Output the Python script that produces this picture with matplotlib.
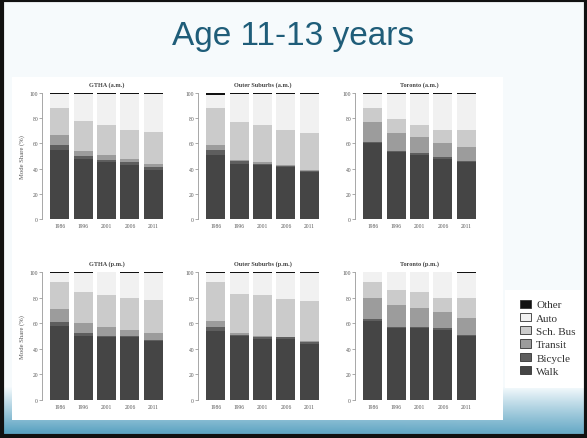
import numpy as np
import matplotlib
matplotlib.use("Agg")
from matplotlib import pyplot as plt
from matplotlib.patches import Rectangle, Patch

# DATA (mode share in %)
years = ["1986", "1996", "2001", "2006", "2011"]
modes = ["Walk", "Bicycle", "Transit", "Sch. Bus", "Auto", "Other"]
panel_titles = ["GTHA (a.m.)", "Outer Suburbs (a.m.)", "Toronto (a.m.)",
                "GTHA (p.m.)", "Outer Suburbs (p.m.)", "Toronto (p.m.)"]

# a.m.
gtha_am_walk = [55, 48, 45, 43, 39]
gtha_am_bike = [4, 2, 2, 2, 2]
gtha_am_transit = [8, 4, 4, 3, 3]
gtha_am_bus = [21, 24, 24, 23, 25]
gtha_am_other = [0.8, 0.8, 0.8, 0.8, 0.8]

outer_am_walk = [51, 44, 43, 41, 37]
outer_am_bike = [4, 2, 1, 1, 1]
outer_am_transit = [4, 1, 1, 1, 1]
outer_am_bus = [29, 30, 30, 28, 29]
outer_am_other = [1.5, 0.8, 0.8, 0.8, 0.8]

tor_am_walk = [60, 53, 51, 48, 45]
tor_am_bike = [1, 1, 1, 1, 1]
tor_am_transit = [16, 14, 13, 11, 11]
tor_am_bus = [11, 11, 10, 11, 14]
tor_am_other = [0.8, 0.8, 0.8, 0.8, 0.8]

# p.m.
gtha_pm_walk = [58, 50, 49, 49, 46]
gtha_pm_bike = [3, 2, 1, 1, 1]
gtha_pm_transit = [10, 8, 7, 5, 5]
gtha_pm_bus = [21, 24, 25, 25, 26]
gtha_pm_other = [0.8, 0.8, 0, 0.8, 0.8]

outer_pm_walk = [54, 50, 48, 48, 44]
outer_pm_bike = [3, 1, 1, 1, 1]
outer_pm_transit = [5, 1, 1, 0, 1]
outer_pm_bus = [30, 31, 32, 30, 31]
outer_pm_other = [0.8, 0.8, 0.5, 0.8, 0.8]

tor_pm_walk = [62, 56, 56, 55, 50]
tor_pm_bike = [1, 1, 1, 1, 1]
tor_pm_transit = [17, 17, 15, 13, 13]
tor_pm_bus = [12, 12, 12, 11, 16]
tor_pm_other = [0, 0, 0, 0, 0.8]

panels = [
    (gtha_am_walk, gtha_am_bike, gtha_am_transit, gtha_am_bus, gtha_am_other),
    (outer_am_walk, outer_am_bike, outer_am_transit, outer_am_bus, outer_am_other),
    (tor_am_walk, tor_am_bike, tor_am_transit, tor_am_bus, tor_am_other),
    (gtha_pm_walk, gtha_pm_bike, gtha_pm_transit, gtha_pm_bus, gtha_pm_other),
    (outer_pm_walk, outer_pm_bike, outer_pm_transit, outer_pm_bus, outer_pm_other),
    (tor_pm_walk, tor_pm_bike, tor_pm_transit, tor_pm_bus, tor_pm_other),
]

colors = {"Walk": "#454545", "Bicycle": "#5e5e5e", "Transit": "#9c9c9c",
          "Sch. Bus": "#cbcbcb", "Auto": "#f1f1f1", "Other": "#111111"}

W, H = 587, 439
fig = plt.figure(figsize=(W / 100, H / 100), dpi=100)

# slide background with teal gradient at the bottom
bg = fig.add_axes([0, 0, 1, 1])
yy = np.linspace(0, 1, H)[:, None] * np.ones((1, W))
xx = np.ones((H, 1)) * np.linspace(0, 1, W)[None, :]
t = np.clip((yy * H - 388) / 45, 0, 1)
light = np.array([0.965, 0.983, 0.992])
teal = np.array([0.36, 0.64, 0.76])
img = light[None, None, :] * (1 - t[..., None]) + teal[None, None, :] * t[..., None]
img = img * (1 - 0.1 * xx[..., None] * t[..., None]) + 0.1 * xx[..., None] * t[..., None]
bg.imshow(img, extent=[0, W, H, 0], aspect="auto")
bg.set_xlim(0, W)
bg.set_ylim(H, 0)
bg.axis("off")
# white picture panel and legend box
bg.add_patch(Rectangle((12, 78), 491, 343, facecolor="white", edgecolor="none"))
bg.add_patch(Rectangle((505, 291), 80, 98, facecolor="white", edgecolor="none"))
# dark slide frame
bg.add_patch(Rectangle((1.5, 1), W - 3, H - 3, facecolor="none", edgecolor="#111111", lw=3))

fig.text(0.5, 1 - 45 / H, "Age 11-13 years", ha="center", va="baseline",
         fontsize=24, color="#1f5d79", family="Liberation Sans")

# axes positions in pixels (left, right)
col_px = [(45, 168), (201, 324), (358, 481)]
row_px = [(94, 220), (273, 401)]

x = np.arange(len(years))
for k, data in enumerate(panels):
    r, c = divmod(k, 3)
    x0, x1 = col_px[c]
    ytop, ybot = row_px[r]
    ax = fig.add_axes([x0 / W, 1 - ybot / H, (x1 - x0) / W, (ybot - ytop) / H])
    for s in ["top", "right", "bottom"]:
        ax.spines[s].set_visible(False)
    ax.spines["left"].set_position(("outward", 2))
    ax.spines["left"].set_color("#999999")
    ax.spines["left"].set_linewidth(0.6)
    walk, bike, transit, bus, other = [np.array(v, dtype=float) for v in data]
    auto = 100 - walk - bike - transit - bus - other
    bottom = np.zeros(len(years))
    for name, vals in zip(modes, [walk, bike, transit, bus, auto, other]):
        ax.bar(x, vals, 0.81, bottom=bottom, color=colors[name], edgecolor="none")
        bottom = bottom + vals
    ax.set_xlim(-0.62, 4.62)
    ax.set_ylim(0, 100)
    ax.set_xticks(x)
    ax.set_xticklabels(years, family="Liberation Serif")
    ax.set_yticks([0, 20, 40, 60, 80, 100])
    ax.set_yticklabels(["0", "20", "40", "60", "80", "100"], family="Liberation Serif")
    ax.tick_params(axis="both", labelsize=4, labelcolor="#555555")
    ax.tick_params(axis="x", length=0, pad=3)
    ax.tick_params(axis="y", length=2, width=0.5, color="#888888", pad=1)
    ax.set_title(panel_titles[k], fontsize=4.5, family="Liberation Serif",
                 fontweight="bold", color="#444444", pad=5)
    if c == 0:
        ax.set_ylabel("Mode Share (%)", fontsize=4.8, family="Liberation Serif",
                      color="#555555", labelpad=3)

handles = [Patch(facecolor=colors[m], edgecolor="#333333", linewidth=0.6) for m in modes[::-1]]
leg = fig.legend(handles, modes[::-1], loc="upper left",
                 bbox_to_anchor=(514 / W, 1 - 295 / H), frameon=False,
                 prop={"family": "Liberation Serif", "size": 8},
                 handlelength=1.0, handleheight=0.75, handletextpad=0.5,
                 labelspacing=0.3, borderpad=0)
for txt in leg.get_texts():
    txt.set_color("#333333")

fig.savefig("out.png", dpi=100)
